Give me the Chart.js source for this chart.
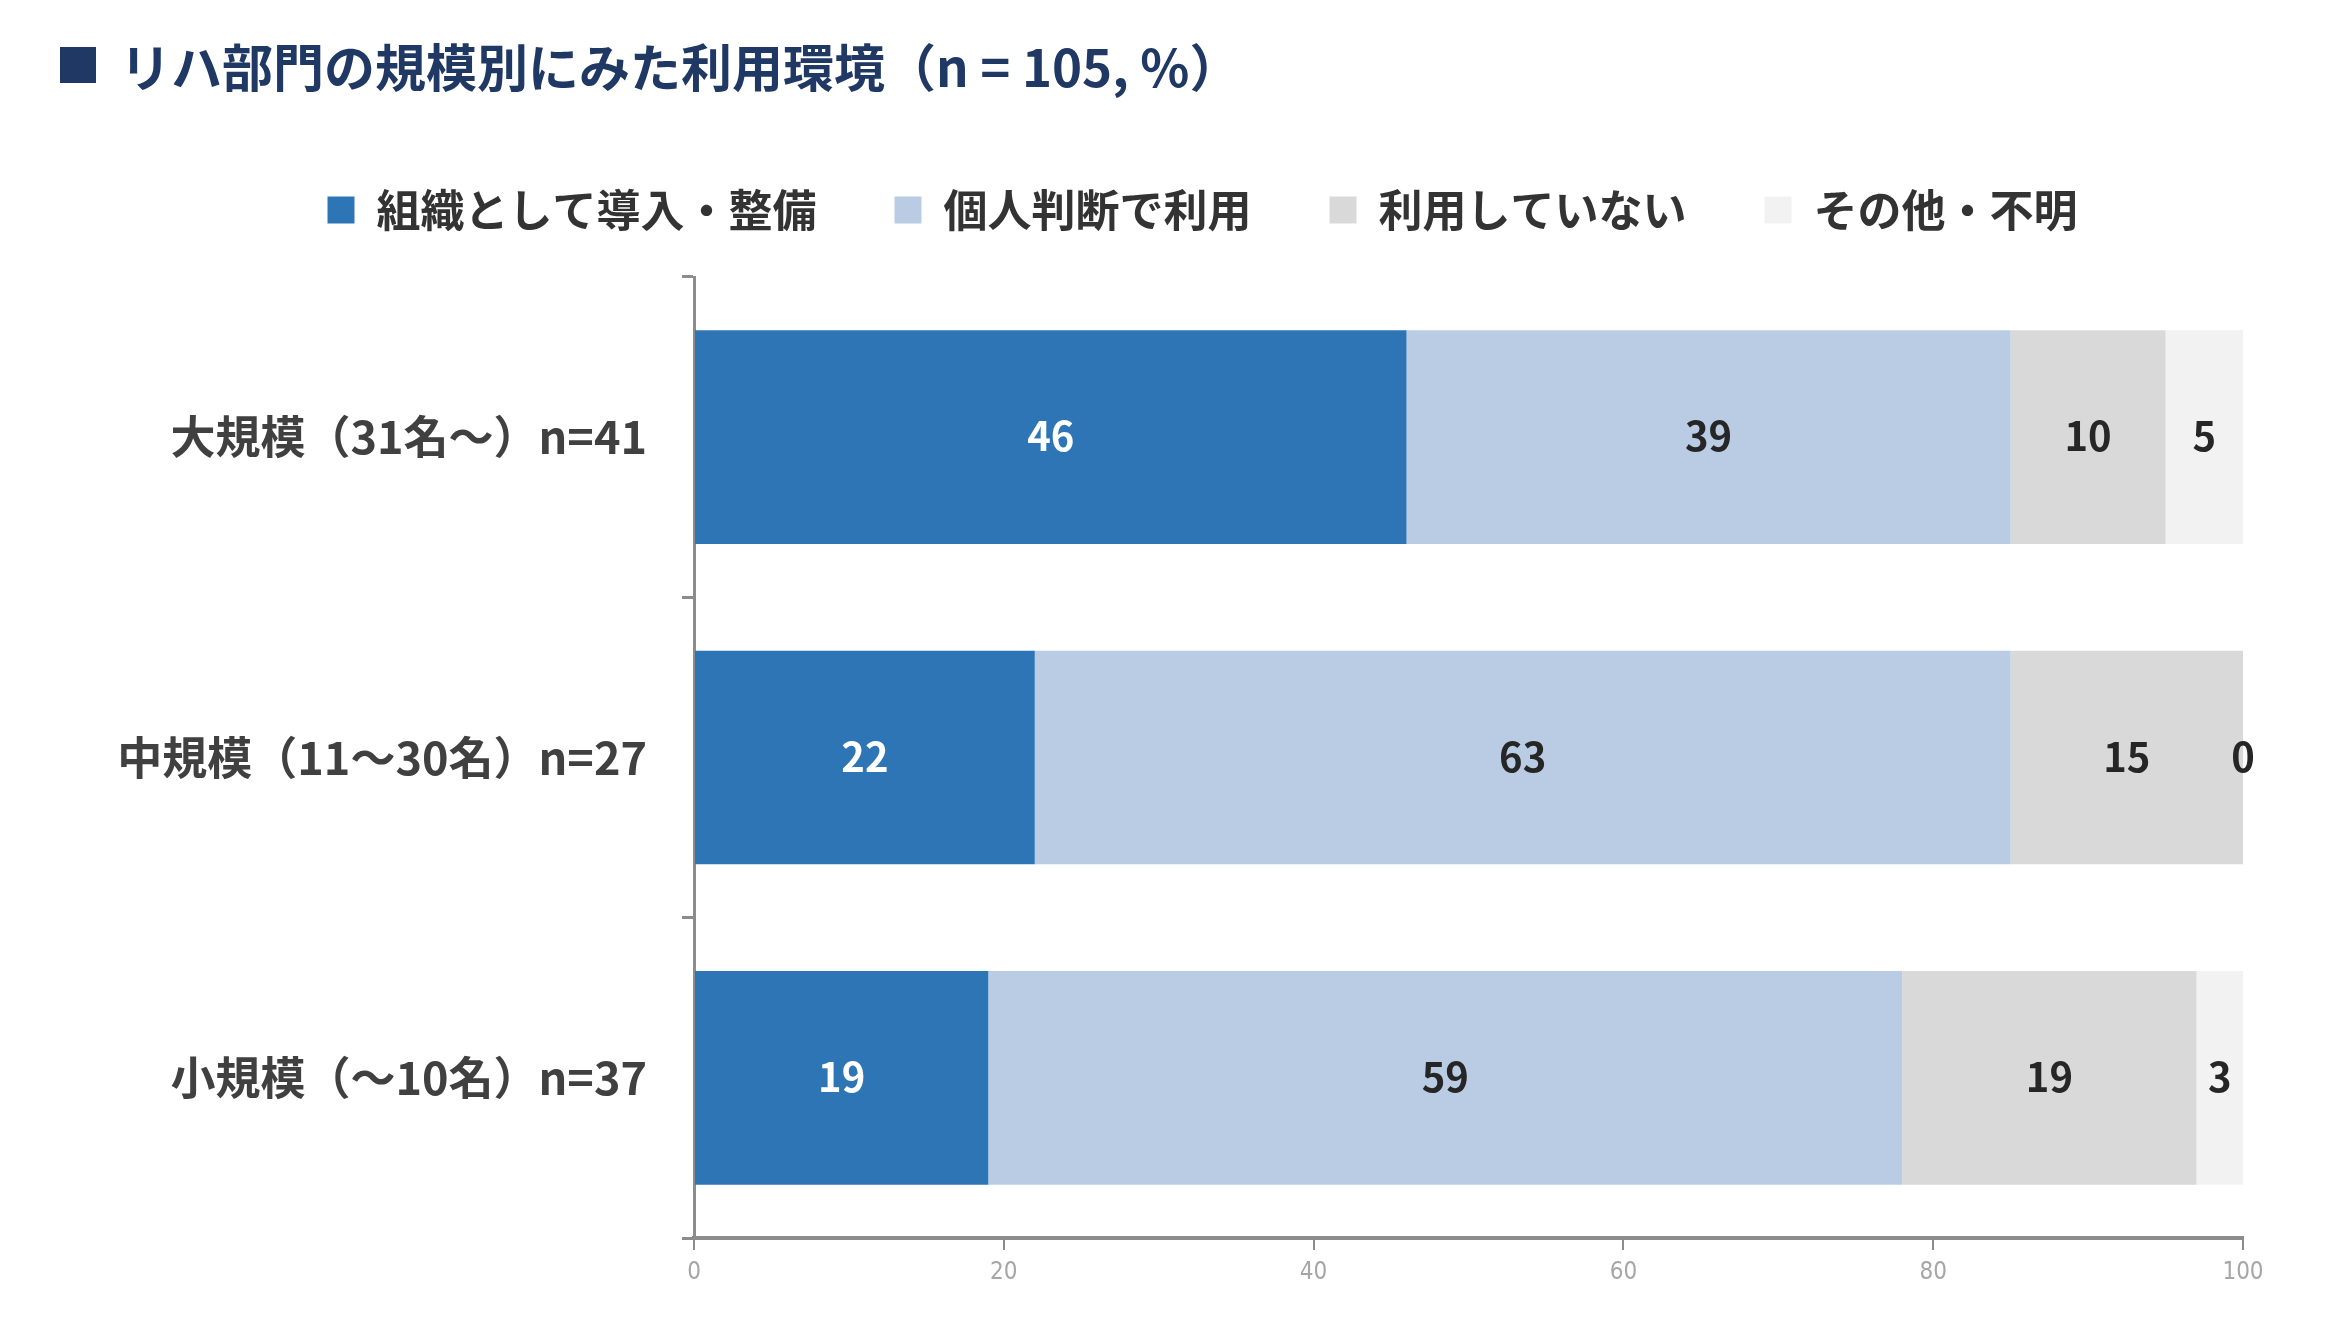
<!DOCTYPE html>
<html lang="ja">
<head>
<meta charset="utf-8">
<title>リハ部門の規模別にみた利用環境</title>
<script src="https://cdn.jsdelivr.net/npm/chart.js@4.4.1/dist/chart.umd.min.js"></script>
<style>
  html, body { margin: 0; padding: 0; background: #fff; }
  #wrap { position: absolute; left: 0; top: 0; width: 2348px; height: 1322px; }
  #title {
    position: absolute; left: 60px; top: 35px; height: 60px;
    display: flex; align-items: center; z-index: 2;
    font-family: "Noto Sans CJK JP", sans-serif; font-weight: bold;
    font-size: 51px; color: #1f3864; white-space: nowrap;
  }
  #title .mark { width: 36px; height: 36px; background: #1f3864; margin-right: 24px; }
</style>
</head>
<body>
<div id="title"><div class="mark"></div><span>リハ部門の規模別にみた利用環境（n = 105, %）</span></div>
<div id="wrap"><canvas id="chart"></canvas></div>
<script>
// categories and series (percent)
const categories = ["大規模（31名〜）n=41", "中規模（11〜30名）n=27", "小規模（〜10名）n=37"];
const seriesNames = ["組織として導入・整備", "個人判断で利用", "利用していない", "その他・不明"];
const orgAdopted = [46, 22, 19];
const personalUse = [39, 63, 59];
const notUsed = [10, 15, 19];
const otherUnknown = [5, 0, 3];
const xTicks = [0, 20, 40, 60, 80, 100];

const seriesColors = ["#2e75b6", "#b9cce4", "#d9d9d9", "#f2f2f2"];
const labelColors = ["#ffffff", "#262626", "#262626", "#262626"];
const axisGray = "#8c8c8c";
const jpFont = '"Noto Sans CJK JP", "Noto Sans", sans-serif';

// value labels in the middle of each segment
const segmentLabels = {
    id: "segmentLabels",
    afterDatasetsDraw(chart) {
        const ctx = chart.ctx;
        ctx.save();
        ctx.font = "bold 40px " + jpFont;
        ctx.textAlign = "center";
        ctx.textBaseline = "middle";
        chart.data.datasets.forEach((ds, i) => {
            const meta = chart.getDatasetMeta(i);
            meta.data.forEach((bar, j) => {
                ctx.fillStyle = labelColors[i];
                ctx.fillText(String(ds.data[j]), (bar.x + bar.base) / 2, bar.y - 1);
            });
        });
        ctx.restore();
    }
};

// legend is centred a bit right of the page centre in the original
const legendOffset = {
    id: "legendOffset",
    afterLayout(chart) {
        if (chart.legend) chart.legend.left = 162;
    }
};

const values = [orgAdopted, personalUse, notUsed, otherUnknown];

new Chart(document.getElementById("chart"), {
    type: "bar",
    data: {
        labels: categories,
        datasets: seriesNames.map((name, i) => ({
            label: name,
            data: values[i],
            backgroundColor: seriesColors[i],
            borderWidth: 0,
            barPercentage: 0.667,
            categoryPercentage: 1
        }))
    },
    options: {
        indexAxis: "y",
        responsive: true,
        maintainAspectRatio: false,
        animation: false,
        layout: { padding: { top: 110, left: 0, right: 105, bottom: 24 } },
        plugins: {
            tooltip: { enabled: false },
            legend: {
                position: "top",
                labels: {
                    boxWidth: 27,
                    boxHeight: 27,
                    padding: 78,
                    color: "#333333",
                    font: { family: jpFont, size: 44, weight: "bold" }
                }
            },
            // empty spacer between legend and plot
            subtitle: {
                display: true,
                text: " ",
                weight: 500,
                font: { size: 1, lineHeight: 1 },
                padding: { top: 34, bottom: 0 }
            }
        },
        scales: {
            x: {
                stacked: true,
                min: 0,
                max: 100,
                afterBuildTicks: (scale) => { scale.ticks = xTicks.map(v => ({ value: v })); },
                afterFit: (scale) => { scale.height = 60; },
                border: { color: axisGray, width: 4 },
                grid: { drawOnChartArea: false, drawTicks: true, tickLength: 12, color: axisGray, lineWidth: 2 },
                ticks: {
                    padding: 8,
                    color: "#a6a6a6",
                    font: { family: '"Liberation Sans Narrow", "DejaVu Sans Condensed", sans-serif', size: 24 }
                }
            },
            y: {
                stacked: true,
                afterFit: (scale) => { scale.width = 694; },
                border: { color: axisGray, width: 3 },
                grid: { offset: true, drawOnChartArea: false, drawTicks: true, tickLength: 12, color: axisGray, lineWidth: 3 },
                ticks: {
                    padding: 35,
                    color: "#404040",
                    font: { family: jpFont, size: 45, weight: "bold" }
                }
            }
        }
    },
    plugins: [segmentLabels, legendOffset]
});
</script>
</body>
</html>
